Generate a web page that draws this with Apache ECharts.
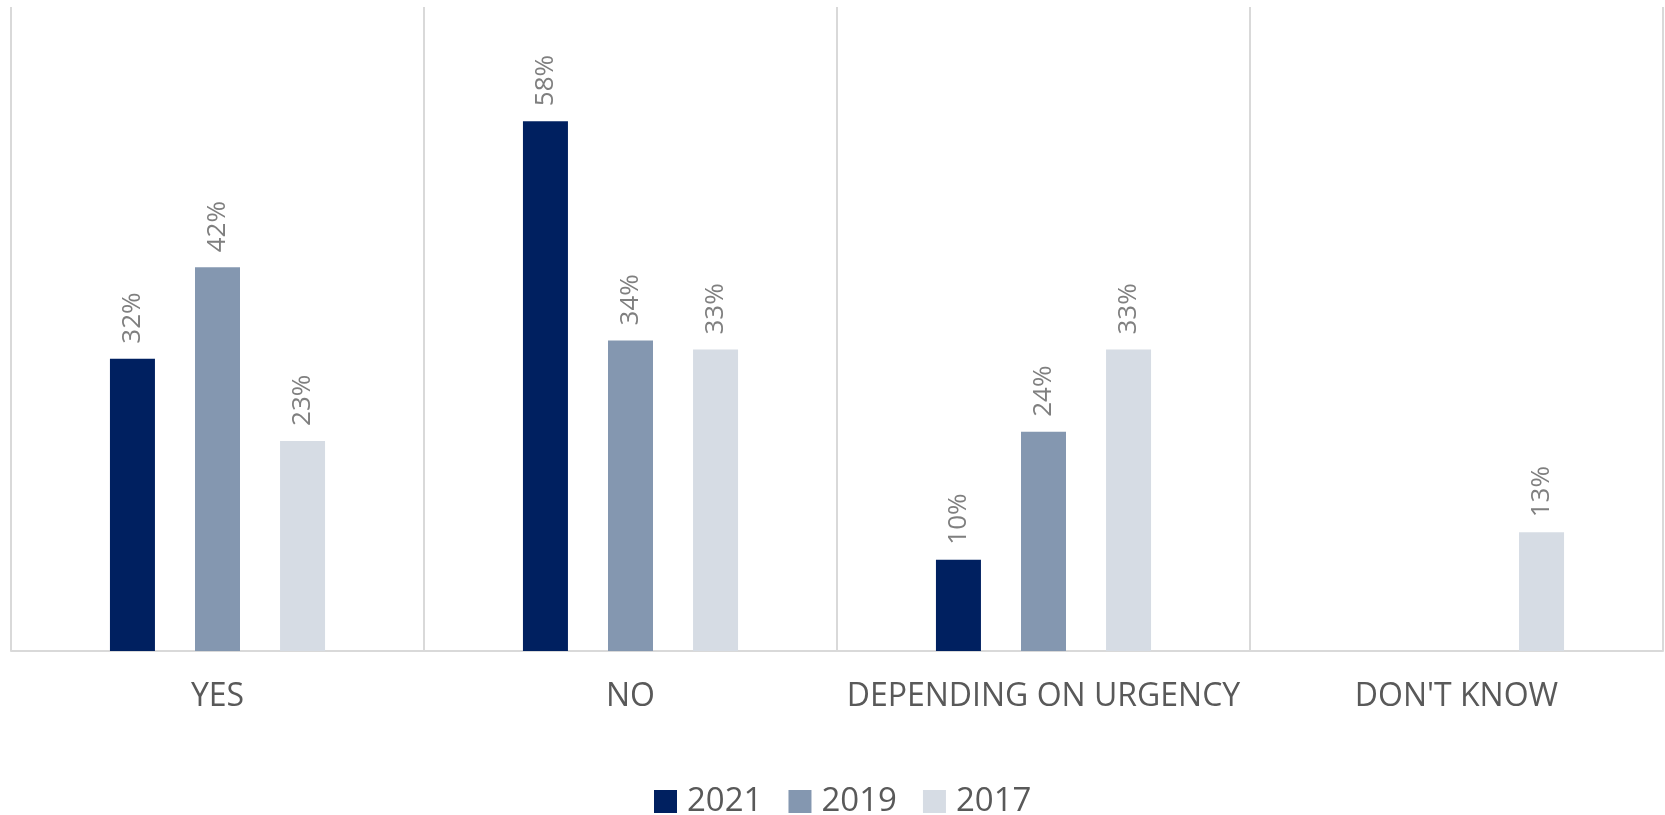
<!DOCTYPE html>
<html>
<head>
<meta charset="utf-8">
<script src="https://cdn.jsdelivr.net/npm/echarts@6/dist/echarts.min.js"></script>
<style>
  html, body { margin: 0; padding: 0; background: #ffffff; }
  #chart { width: 1665px; height: 815px; }
</style>
</head>
<body>
<div id="chart"></div>
<script>
// Survey answers by year (percent of respondents)
const categories = ['YES', 'NO', 'DEPENDING ON URGENCY', "DON'T KNOW"];
const values2021 = [32, 58, 10, null];
const values2019 = [42, 34, 24, null];
const values2017 = [23, 33, 33, 13];
const seriesNames = ['2021', '2019', '2017'];
const seriesColors = ['#002060', '#8497B0', '#D6DCE4'];

const FONT = "'Open Sans', 'Noto Sans', sans-serif";

function barSeries(name, data, color) {
  return {
    name: name,
    type: 'bar',
    data: data,
    barWidth: 45,
    barGap: '89%',
    itemStyle: { color: color },
    label: {
      show: true,
      position: 'top',
      rotate: 90,
      align: 'left',
      verticalAlign: 'middle',
      distance: 15,
      color: '#7F7F7F',
      fontFamily: FONT,
      fontSize: 26,
      formatter: function (p) { return p.value + '%'; }
    },
    emphasis: { disabled: true }
  };
}

const chart = echarts.init(document.getElementById('chart'), null, { renderer: 'canvas' });
chart.setOption({
  animation: false,
  backgroundColor: '#ffffff',
  grid: { left: 11, right: 2, top: 7, bottom: 164, containLabel: false },
  legend: {
    data: seriesNames,
    top: 785,
    left: 654,
    padding: 0,
    itemWidth: 23,
    itemHeight: 23,
    itemGap: 26,
    icon: 'rect',
    textStyle: { color: '#595959', fontFamily: FONT, fontSize: 33, padding: [0, 0, 0, 5] }
  },
  xAxis: {
    type: 'category',
    data: categories,
    axisTick: { show: false },
    axisLine: { show: true, lineStyle: { color: '#D9D9D9', width: 2 } },
    splitLine: { show: true, lineStyle: { color: '#D9D9D9', width: 2 } },
    axisLabel: { color: '#595959', fontFamily: FONT, fontSize: 32, margin: 30, interval: 0 }
  },
  yAxis: {
    type: 'value',
    min: 0,
    max: 70.5,
    show: false,
    splitLine: { show: false }
  },
  series: [
    barSeries(seriesNames[0], values2021, seriesColors[0]),
    barSeries(seriesNames[1], values2019, seriesColors[1]),
    barSeries(seriesNames[2], values2017, seriesColors[2])
  ]
});
</script>
</body>
</html>
